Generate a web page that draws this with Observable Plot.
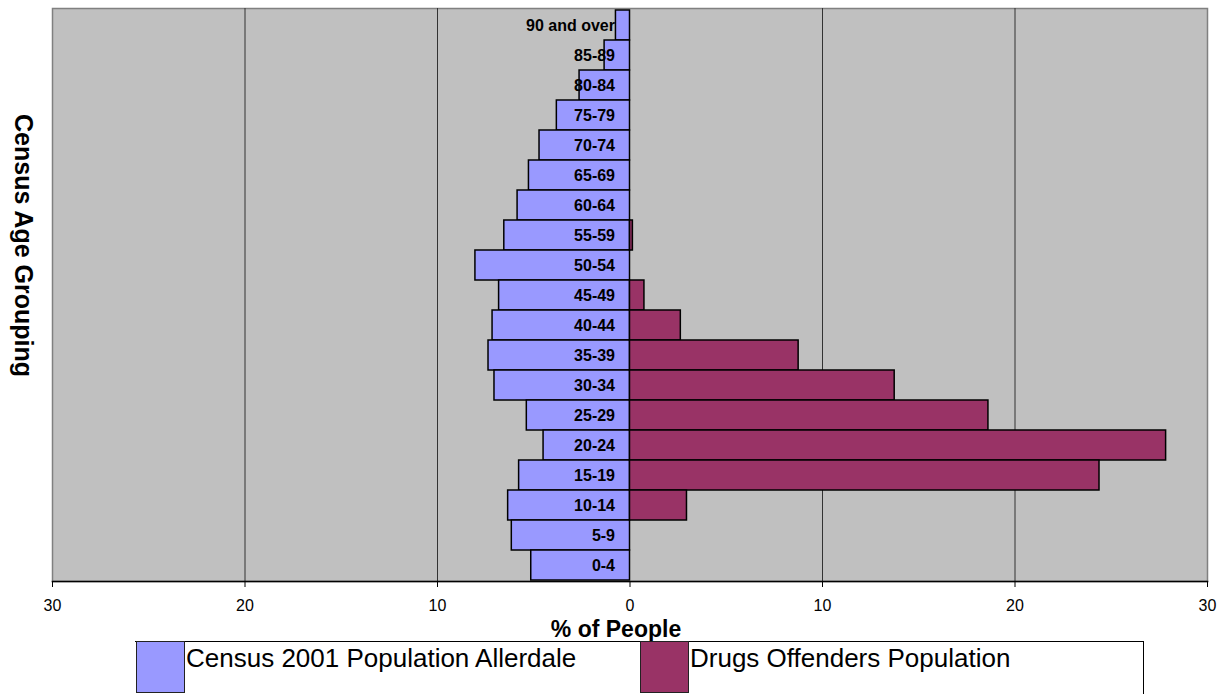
<!DOCTYPE html>
<html>
<head>
<meta charset="utf-8">
<script src="https://cdn.jsdelivr.net/npm/d3@7"></script>
<script src="https://cdn.jsdelivr.net/npm/@observablehq/plot@0.6"></script>
<style>
  html, body { margin: 0; padding: 0; background: #fff; }
  body { width: 1229px; height: 694px; overflow: hidden; font-family: "Liberation Sans", Arial, sans-serif; }
  #chart svg { display: block; }
  #legend { position: relative; width: 1229px; height: 54px; margin-top: -10px; }
  #legend .box { position: absolute; left: 135px; top: 1px; width: 1009px; height: 60px;
    border-top: 1px solid #000; border-right: 1px solid #000; box-sizing: border-box; }
  #legend .sw { position: absolute; top: 1px; width: 49px; height: 52px; box-sizing: border-box;
    border: 1.5px solid #222; }
  #legend .lab { position: absolute; top: 5px; font-size: 26px; line-height: 26px; color: #000; white-space: nowrap; }
</style>
</head>
<body>
<div id="chart"></div>
<div id="legend"></div>
<script>
// Age bands, oldest first (top of the pyramid)
const ages = ["90 and over", "85-89", "80-84", "75-79", "70-74", "65-69", "60-64",
  "55-59", "50-54", "45-49", "40-44", "35-39", "30-34", "25-29", "20-24",
  "15-19", "10-14", "5-9", "0-4"];

// % of people in each band
const census2001 = [0.73, 1.32, 2.62, 3.80, 4.70, 5.25, 5.84,
  6.53, 8.03, 6.80, 7.14, 7.35, 7.04, 5.36, 4.49,
  5.76, 6.33, 6.14, 5.13];
const drugsOffenders = [0, 0, 0, 0, 0, 0, 0,
  0.15, 0, 0.75, 2.64, 8.76, 13.75, 18.62, 27.85,
  24.39, 2.96, 0, 0];

const xTicks = [-30, -20, -10, 0, 10, 20, 30];
const gridValues = [-20, -10, 10, 20];

const seriesNames = ["Census 2001 Population Allerdale", "Drugs Offenders Population"];
const seriesColors = ["#9999ff", "#993366"];

// Census bars grow to the left, offenders to the right
const censusRows = ages.map((age, i) => ({age, value: -census2001[i]}));
const drugRows = ages.map((age, i) => ({age, value: drugsOffenders[i]})).filter(d => d.value > 0);

const chart = Plot.plot({
  width: 1229,
  height: 650,
  marginLeft: 52,
  marginRight: 22,
  marginTop: 8,
  marginBottom: 69,
  style: {fontFamily: "'Liberation Sans', Arial, sans-serif", background: "transparent"},
  x: {domain: [-30, 30]},
  y: {domain: ages, padding: 0, axis: null},
  marks: [
    Plot.frame({fill: "#c0c0c0", stroke: "#808080", strokeWidth: 1.5}),
    Plot.ruleX(gridValues, {stroke: "#333", strokeWidth: 1}),
    Plot.barX(censusRows, {x: "value", y: "age", fill: seriesColors[0], stroke: "#000", strokeWidth: 1.5}),
    Plot.barX(drugRows, {x: "value", y: "age", fill: seriesColors[1], stroke: "#000", strokeWidth: 1.5}),
    Plot.text(ages, {x: 0, y: d => d, text: d => d, dx: -15, textAnchor: "end",
      fontWeight: "bold", fontSize: 16, fill: "#000"}),
    Plot.frame({anchor: "bottom", stroke: "#000", strokeWidth: 1.5}),
    Plot.axisX({ticks: xTicks, tickFormat: d => Math.abs(d), tickSize: 6, tickPadding: 12,
      fontSize: 16, label: null, stroke: "#000"}),
    Plot.text(["% of People"], {frameAnchor: "bottom", lineAnchor: "middle", dy: 48, dx: -14,
      fontWeight: "bold", fontSize: 23, fill: "#000"}),
    Plot.text(["Census Age Grouping"], {frameAnchor: "left", textAnchor: "middle", lineAnchor: "middle",
      dx: -30, dy: -49.5, rotate: 90, fontWeight: "bold", fontSize: 25, fill: "#000"})
  ]
});
document.getElementById("chart").appendChild(chart);

// Legend under the chart
const legend = document.getElementById("legend");
const box = document.createElement("div");
box.className = "box";
legend.appendChild(box);
const positions = [[136, 186], [640, 690]];
seriesNames.forEach((name, i) => {
  const sw = document.createElement("div");
  sw.className = "sw";
  sw.style.left = positions[i][0] + "px";
  sw.style.background = seriesColors[i];
  legend.appendChild(sw);
  const lab = document.createElement("div");
  lab.className = "lab";
  lab.style.left = positions[i][1] + "px";
  lab.textContent = name;
  legend.appendChild(lab);
});
</script>
</body>
</html>
